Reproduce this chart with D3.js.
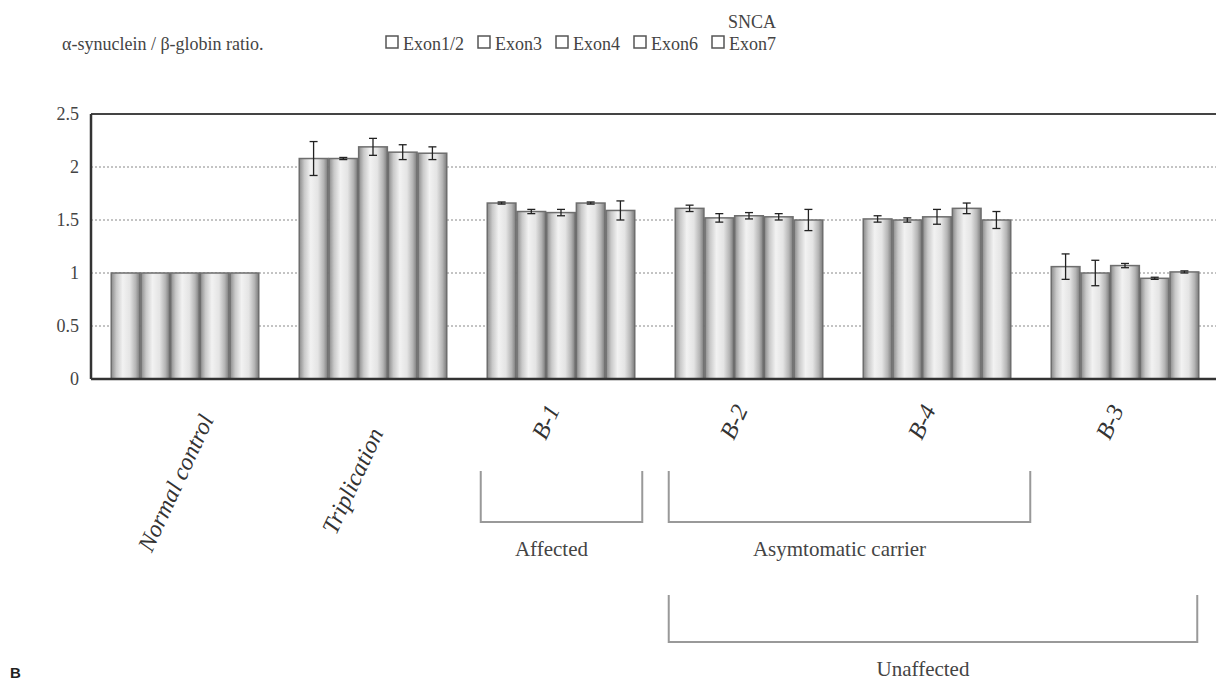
<!DOCTYPE html>
<html><head><meta charset="utf-8">
<script src="https://cdn.jsdelivr.net/npm/d3@7"></script>
<style>body{margin:0;background:#fff}svg{display:block}</style>
</head><body><svg id="c" width="1216" height="683"></svg>
<script>
const categories = ["Normal control","Triplication","B-1","B-2","B-4","B-3"];
const exons = ["Exon1/2","Exon3","Exon4","Exon6","Exon7"];
const exon12 = [1.00, 2.08, 1.66, 1.61, 1.51, 1.06];
const exon3  = [1.00, 2.08, 1.58, 1.52, 1.50, 1.00];
const exon4  = [1.00, 2.19, 1.57, 1.54, 1.53, 1.07];
const exon6  = [1.00, 2.14, 1.66, 1.53, 1.61, 0.95];
const exon7  = [1.00, 2.13, 1.59, 1.50, 1.50, 1.01];
const err12 = [0, 0.16, 0.01, 0.03, 0.03, 0.12];
const err3  = [0, 0.01, 0.02, 0.04, 0.02, 0.12];
const err4  = [0, 0.08, 0.03, 0.03, 0.07, 0.02];
const err6  = [0, 0.07, 0.01, 0.03, 0.05, 0.01];
const err7  = [0, 0.06, 0.09, 0.10, 0.08, 0.01];
const yTicks = [0, 0.5, 1, 1.5, 2, 2.5];
const yTickLabels = ["0","0.5","1","1.5","2","2.5"];
const title = "SNCA";
const yLabel = "α-synuclein / β-globin ratio.";
const groups = [
  {label:"Affected", from:"B-1", to:"B-1", row:0},
  {label:"Asymtomatic carrier", from:"B-2", to:"B-4", row:0},
  {label:"Unaffected", from:"B-2", to:"B-3", row:1}
];

const values = [exon12, exon3, exon4, exon6, exon7];
const errors = [err12, err3, err4, err6, err7];

const svg = d3.select("#c");
const serif = "'Liberation Serif','DejaVu Serif',serif";

const x = d3.scaleBand().domain(categories).range([91, 1219]).paddingInner(0.21).paddingOuter(0.105);
const xi = d3.scaleBand().domain(exons).range([0, x.bandwidth()]);
const y = d3.scaleLinear().domain([0, 2.5]).range([379, 114]);

const defs = svg.append("defs");
const g = defs.append("linearGradient").attr("id","barg").attr("x1","0").attr("x2","1").attr("y1","0").attr("y2","0");
[[0,"#8a8a8a"],[0.18,"#c9c9c9"],[0.4,"#f2f2f2"],[0.65,"#e4e4e4"],[0.85,"#b5b5b5"],[1,"#7a7a7a"]].forEach(s=>g.append("stop").attr("offset",s[0]).attr("stop-color",s[1]));

// gridlines
svg.append("g").selectAll("line").data(yTicks.filter(t=>t>0 && t<2.5)).join("line")
  .attr("x1",91).attr("x2",1216).attr("y1",d=>y(d)).attr("y2",d=>y(d))
  .attr("stroke","#888").attr("stroke-width",1).attr("stroke-dasharray","2,2");

// bars
const bars = [];
categories.forEach((c,ci)=>exons.forEach((e,ei)=>bars.push({c,e,v:values[ei][ci],err:errors[ei][ci]})));
svg.append("g").selectAll("rect").data(bars).join("rect")
  .attr("x",d=>x(d.c)+xi(d.e)+0.5).attr("width",xi.bandwidth()-1)
  .attr("y",d=>y(d.v)).attr("height",d=>y(0)-y(d.v))
  .attr("fill","url(#barg)").attr("stroke","#6e6e6e").attr("stroke-width",1.5);

// error bars
const eb = svg.append("g").attr("stroke","#222").attr("stroke-width",1.3);
bars.filter(d=>d.err>0).forEach(d=>{
  const cx = x(d.c)+xi(d.e)+xi.bandwidth()/2;
  eb.append("line").attr("x1",cx).attr("x2",cx).attr("y1",y(d.v+d.err)).attr("y2",y(d.v-d.err));
  [d.v+d.err,d.v-d.err].forEach(v=>eb.append("line").attr("x1",cx-4).attr("x2",cx+4).attr("y1",y(v)).attr("y2",y(v)));
});

// frame
svg.append("line").attr("x1",91).attr("x2",1216).attr("y1",y(2.5)).attr("y2",y(2.5)).attr("stroke","#444").attr("stroke-width",2);
svg.append("line").attr("x1",91).attr("x2",1216).attr("y1",y(0)).attr("y2",y(0)).attr("stroke","#333").attr("stroke-width",2.5);
svg.append("line").attr("x1",91).attr("x2",91).attr("y1",y(2.5)).attr("y2",y(0)).attr("stroke","#333").attr("stroke-width",2.5);

// y axis labels
const ya = svg.append("g").attr("transform","translate(91,0)")
  .call(d3.axisLeft(y).tickValues(yTicks).tickFormat((d,i)=>yTickLabels[i]).tickSize(0).tickPadding(12));
ya.select(".domain").remove();
ya.selectAll("text").attr("font-family",serif).attr("font-size",18).attr("fill","#444");

// x labels
const xoff = {"Normal control":[-7,484],"Triplication":[-18,482]};
svg.append("g").selectAll("text").data(categories).join("text")
  .attr("transform",d=>{const o=xoff[d]||[-13,423];return `translate(${x(d)+x.bandwidth()/2+o[0]},${o[1]}) rotate(-65)`;})
  .attr("text-anchor","middle").attr("dominant-baseline","middle")
  .attr("font-family",serif).attr("font-style","italic").attr("font-size",24).attr("fill","#333")
  .text(d=>d);

// group brackets
const bg = svg.append("g");
groups.forEach(gr=>{
  const x0 = x(gr.from)-6, x1 = x(gr.to)+x.bandwidth()+ (gr.to==="B-3"?-2:(gr.to==="B-4"?19:7));
  const top = gr.row===0?471:595, bot = gr.row===0?522:642;
  bg.append("path").attr("d",`M${x0},${top}V${bot}H${x1}V${top}`).attr("fill","none").attr("stroke","#999").attr("stroke-width",2);
  bg.append("text").attr("x",(x0+x1)/2-10).attr("y",bot+34).attr("text-anchor","middle")
    .attr("font-family",serif).attr("font-size",21).attr("fill","#444").text(gr.label);
});

// title & legend
svg.append("text").attr("x",752).attr("y",28).attr("text-anchor","middle").attr("font-family",serif).attr("font-size",18).attr("fill","#444").text(title);
svg.append("text").attr("x",62).attr("y",50).attr("font-family",serif).attr("font-size",18).attr("fill","#444").text(yLabel);
let lx = 386;
exons.forEach(e=>{
  svg.append("rect").attr("x",lx).attr("y",36).attr("width",12).attr("height",12).attr("fill","#fff").attr("stroke","#555").attr("stroke-width",1.5);
  const t = svg.append("text").attr("x",lx+17).attr("y",50).attr("font-family",serif).attr("font-size",18).attr("fill","#444").text(e);
  lx += 17 + t.node().getComputedTextLength() + 14;
});

// panel letter
svg.append("text").attr("x",10).attr("y",678).attr("font-family","'Liberation Sans',Arial,sans-serif").attr("font-weight","bold").attr("font-size",15).attr("fill","#222").text("B");
</script></body></html>
